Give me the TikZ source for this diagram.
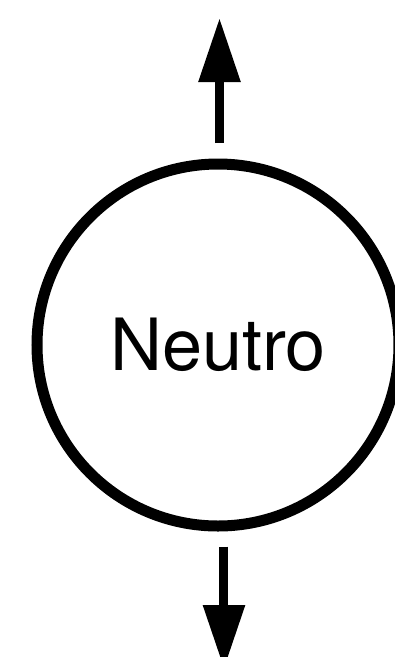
\documentclass[tikz,border=0pt]{standalone}
\usepackage{fontspec}
\setmainfont{TeX Gyre Heros}
\usetikzlibrary{arrows.meta}

\begin{document}
\begin{tikzpicture}[
    part/.style={draw, circle, line width=0.11cm, inner sep=0pt, minimum size=3.62cm, font=\fontsize{20.5}{24}\selectfont},
    arr/.style={-{Triangle[length=0.64cm, width=0.40cm]}, line width=0.09cm}
]
\useasboundingbox (0,0) rectangle (3.95,-6.57);
\node[part] (neutro) at (2.18,-3.45) {Neutro};
\coordinate (up) at (2.195,-0.18);
\coordinate (down) at (2.24,-6.69);

\draw[arr, shorten <=0.155cm] (neutro.north -| up) -- (up);
\draw[arr, shorten <=0.15cm] (neutro.south -| down) -- (down);
\end{tikzpicture}
\end{document}
